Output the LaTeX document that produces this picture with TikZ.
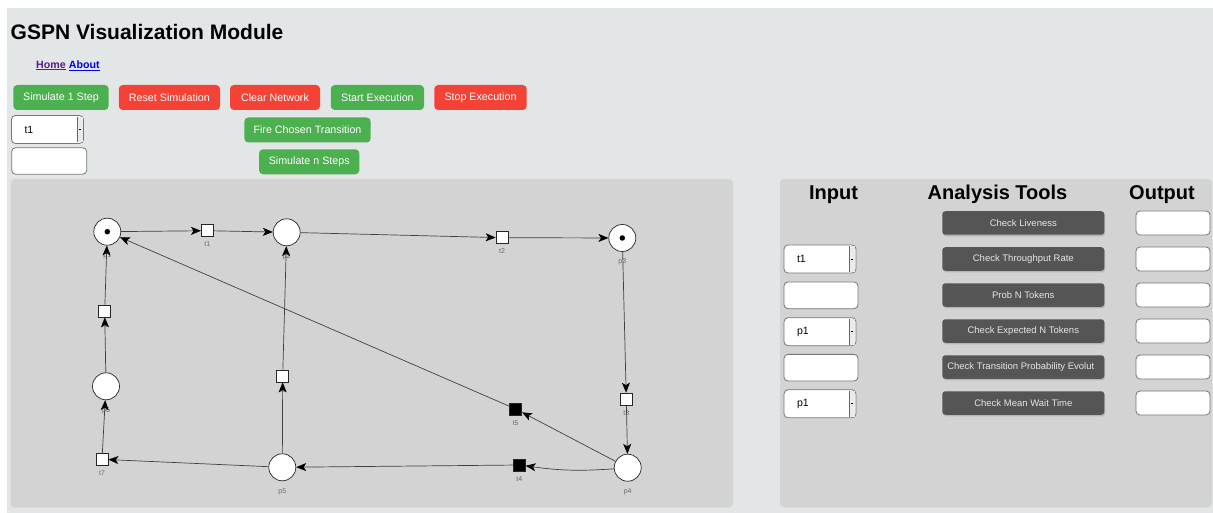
\documentclass[tikz,border=0pt]{standalone}
\usepackage{fontspec}
\setmainfont{Liberation Sans}
\usetikzlibrary{positioning,arrows.meta,calc,shadows}
\definecolor{pagegray}{RGB}{227,230,231}
\definecolor{panelgray}{RGB}{211,211,211}
\definecolor{btngreen}{RGB}{76,175,80}
\definecolor{btnred}{RGB}{244,67,54}
\definecolor{btndark}{RGB}{85,85,85}
\definecolor{linkvisited}{RGB}{85,26,139}
\definecolor{linkblue}{RGB}{0,0,238}
\definecolor{labelgray}{RGB}{105,105,105}
\definecolor{boxedge}{RGB}{118,118,118}
\tikzset{
  btn/.style     ={rectangle,rounded corners=4pt,text=white,inner sep=0pt,
                   minimum height=25pt,font=\fontsize{10.7}{12}\selectfont},
  greenbtn/.style={btn,fill=btngreen},
  redbtn/.style  ={btn,fill=btnred},
  toolbtn/.style ={rectangle,rounded corners=3pt,fill=btndark,text=white!90!black,
                   inner sep=0pt,minimum width=162pt,minimum height=23.5pt,
                   font=\fontsize{9.5}{11}\selectfont,
                   drop shadow={shadow xshift=0.8pt,shadow yshift=-1.6pt,opacity=0.35}},
  field/.style   ={rectangle,rounded corners=4pt,draw=boxedge,fill=white,line width=0.8pt,
                   inner sep=0pt},
  selectbox/.style={field,inner xsep=13pt,text width=46pt,align=left,minimum height=28pt,
                   font=\fontsize{10.5}{12}\selectfont},
  heading/.style ={anchor=base,font=\fontsize{20}{24}\selectfont\bfseries},
  place/.style   ={circle,draw=black!85,fill=white,line width=0.7pt,minimum size=27pt,
                   inner sep=0pt},
  trans/.style   ={rectangle,draw=black!85,fill=white,line width=0.7pt,minimum size=12pt,
                   inner sep=0pt},
  imm/.style     ={trans,fill=black},
  token/.style   ={circle,fill=black,minimum size=5.5pt,inner sep=0pt},
  plabel/.style  ={font=\fontsize{7}{8}\selectfont,text=labelgray,label distance=3.5pt},
  tlabel/.style  ={font=\fontsize{7}{8}\selectfont,text=labelgray,label distance=1.5pt},
  arc/.style     ={-{Stealth[length=10pt,width=8pt,inset=2.5pt,color=black]},
                   draw=black!75,line width=0.7pt},
}
\newcommand{\dropmark}[1]{%
  \fill[black!8] ($(#1.north east)+(-7,1.5)$) rectangle ($(#1.south east)+(-1,-1.5)$);
  \draw[black!60,line width=0.6pt] ($(#1.north east)+(-7,1.5)$) -- ($(#1.south east)+(-7,-1.5)$);
  \draw[black,line width=0.8pt] ($(#1.east)+(-5,0)$) -- ($(#1.east)+(-3,0)$);}

\begin{document}
\begin{tikzpicture}[x=1pt,y=-1pt]
  \useasboundingbox (0,0) rectangle (1213,513);
  \fill[white] (0,0) rectangle (1213,513);
  \fill[pagegray] (7,8) rectangle (1213,513);
  % header
  \node[anchor=base west,inner sep=0pt,font=\fontsize{21}{24}\selectfont\bfseries] (title)
    at (10.5,39.5) {GSPN Visualization Module};
  \node[anchor=west,inner sep=0pt,font=\fontsize{10.6}{12}\selectfont\bfseries] (home)
    at (36,65.5) {\textcolor{linkvisited}{\underline{Home}}};
  \node[right=2.9pt of home,inner sep=0pt,font=\fontsize{10.6}{12}\selectfont\bfseries] (about)
    {\textcolor{linkblue}{\underline{About}}};
  % control buttons
  \node[greenbtn,minimum width=95.4pt] (simone) at (61,97.5) {Simulate 1 Step};
  \node[redbtn,minimum width=101.3pt] (reset) at (169.4,97.5) {Reset Simulation};
  \node[redbtn,minimum width=90pt] (clear) at (275,97.5) {Clear Network};
  \node[greenbtn,minimum width=93.3pt] (start) at (377.4,97.5) {Start Execution};
  \node[redbtn,minimum width=92.4pt] (stop) at (480.5,97.5) {Stop Execution};
  \node[greenbtn,minimum width=126.4pt] (fire) at (307.5,130) {Fire Chosen Transition};
  \node[greenbtn,minimum width=100.3pt] (simn) at (309.2,161.8) {Simulate n Steps};
  \node[selectbox] (chooset) at (47.5,129.5) {t1};
  \dropmark{chooset}
  \node[field,minimum width=75pt,minimum height=26.6pt] (nsteps) at (49.2,161) {};
  % panels
  \fill[panelgray,rounded corners=4pt] (10.5,179) rectangle (733,507.5);
  \fill[panelgray,rounded corners=4pt] (780,179) rectangle (1212,507.5);
  % analysis tools
  \node[heading] (hin) at (833.5,199.5) {Input};
  \node[heading] (htools) at (997.5,199.5) {Analysis Tools};
  \node[heading] (hout) at (1162,199.5) {Output};
  \node[toolbtn] (live) at (1023.3,223) {Check Liveness};
  \node[toolbtn] (thru) at (1023.3,259) {Check Throughput Rate};
  \node[toolbtn] (probn) at (1023.3,295) {Prob N Tokens};
  \node[toolbtn] (expn) at (1023.3,331) {Check Expected N Tokens};
  \node[toolbtn] (evol) at (1023.3,367)
    {\makebox[152pt][l]{Check Transition Probability Evolut}};
  \node[toolbtn] (wait) at (1023.3,403) {Check Mean Wait Time};
  \foreach \y/\n in {223/a,259/b,295/c,331/d,367/e,403/f}
    \node[field,minimum width=74pt,minimum height=24pt] (out\n) at (1173,\y) {};
  \node[selectbox] (inthru) at (820,259) {t1};
  \dropmark{inthru}
  \node[field,minimum width=74pt,minimum height=26.7pt] (inprob) at (821,295.3) {};
  \node[selectbox] (inexp) at (820,331.7) {p1};
  \dropmark{inexp}
  \node[field,minimum width=74pt,minimum height=26.7pt] (inevol) at (821,367.7) {};
  \node[selectbox] (inwait) at (820,403.8) {p1};
  \dropmark{inwait}
  % petri net: places
  \node[place,label={[plabel]below:p1}] (p1) at (107.3,231.7) {};
  \node[place,label={[plabel]below:p2}] (p2) at (286.7,232.3) {};
  \node[place,label={[plabel]below:p3}] (p3) at (622.3,238) {};
  \node[place,label={[plabel]below:p4}] (p4) at (627.7,467.7) {};
  \node[place,label={[plabel]below:p5}] (p5) at (282.3,467.3) {};
  \node[place,label={[plabel]below:p6}] (p6) at (106,386.3) {};
  \node[token] (k1) at (p1) {};
  \node[token] (k3) at (p3) {};
  % transitions
  \node[trans,label={[tlabel]below:t1}] (t1) at (207.3,230.7) {};
  \node[trans,label={[tlabel]below:t2}] (t2) at (502,237.7) {};
  \node[trans,label={[tlabel]below:t3}] (t3) at (626.3,399) {};
  \node[imm,label={[tlabel]below:t4}] (t4) at (519.3,465) {};
  \node[imm,label={[tlabel]below:t5}] (t5) at (515.7,409) {};
  \node[trans,label={[tlabel]below:t6}] (t6) at (104.7,311) {};
  \node[trans,label={[tlabel]below:t7}] (t7) at (102,459.3) {};
  \node[trans,label={[tlabel]below:t8}] (t8) at (282.7,376) {};
  % arcs
  \draw[arc] (p1) -- (t1);
  \draw[arc] (t1) -- (p2);
  \draw[arc] (p2) -- (t2);
  \draw[arc] (t2) -- (p3);
  \draw[arc] (p3) -- (t3);
  \draw[arc] (t3) -- (p4);
  \draw[arc] (p4) to[bend left=6] (t4);
  \draw[arc] (t4) -- (p5);
  \draw[arc] (p4) -- (t5);
  \draw[arc] (t5) -- (p1);
  \draw[arc] (p5) -- (t7);
  \draw[arc] (t7) -- (p6);
  \draw[arc] (p6) -- (t6);
  \draw[arc] (t6) -- (p1);
  \draw[arc] (p5) -- (t8);
  \draw[arc] (t8) -- (p2);
\end{tikzpicture}
\end{document}
